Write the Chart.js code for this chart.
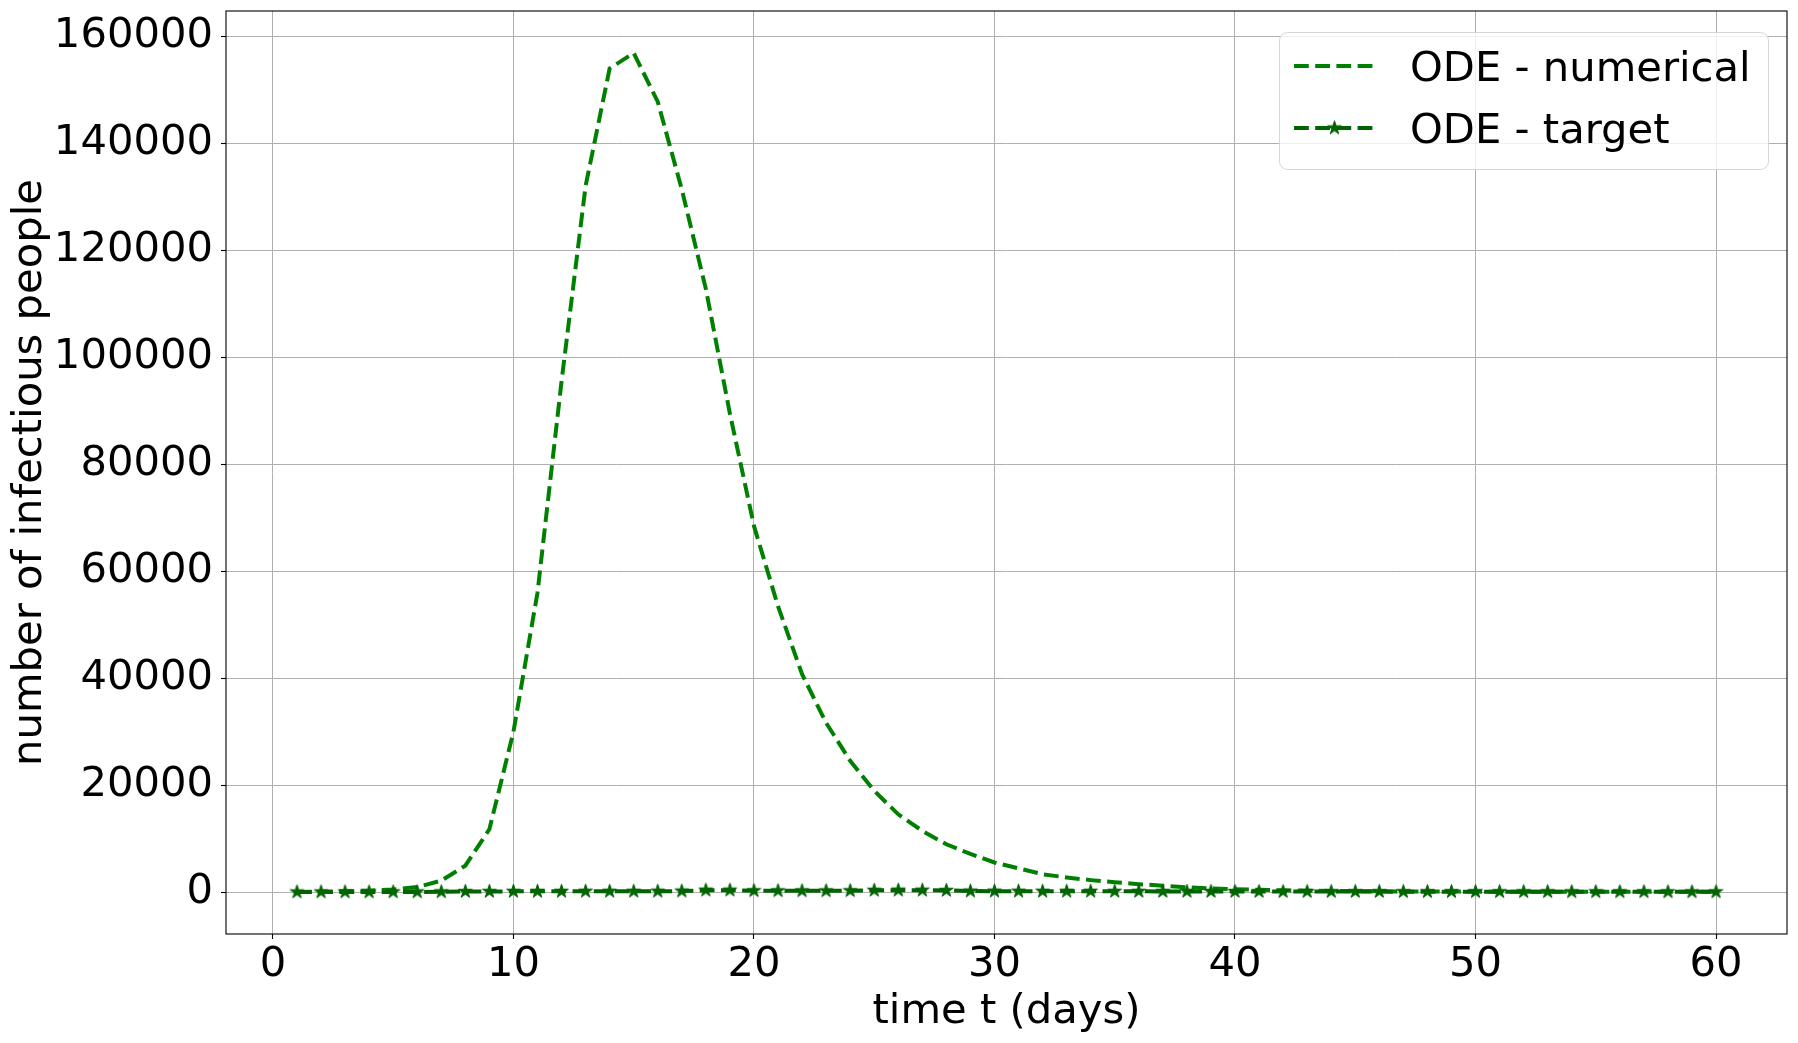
<!DOCTYPE html>
<html><head><meta charset="utf-8">
<script src="https://cdn.jsdelivr.net/npm/chart.js@4"></script>
<style>html,body{margin:0;padding:0;background:#fff;overflow:hidden}</style>
</head><body>
<canvas id="c" width="1798" height="1043"></canvas>
<script>
const days = [1,2,3,4,5,6,7,8,9,10,11,12,13,14,15,16,17,18,19,20,21,22,23,24,25,26,27,28,29,30,
  31,32,33,34,35,36,37,38,39,40,41,42,43,44,45,46,47,48,49,50,51,52,53,54,55,56,57,58,59,60];
const numerical = [100,150,220,330,550,1000,2200,5000,11800,30000,
  56000,95500,132000,154000,156900,147800,131400,112800,89500,68500,
  53500,40800,31700,24600,19000,14600,11500,9000,7200,5600,
  4500,3400,2800,2300,1900,1550,1250,950,750,600,
  480,400,330,280,240,210,190,170,160,150,
  140,135,130,128,125,122,120,118,116,115];
const target = [80,80,90,90,100,100,110,180,190,200,
  200,200,210,210,220,230,250,420,430,320,
  310,300,300,320,400,420,410,380,250,240,
  230,220,220,210,200,200,190,190,180,180,
  170,160,160,150,150,150,140,140,140,130,
  130,130,130,120,120,120,120,110,110,110];
const xTicks = [0,10,20,30,40,50,60];
const yTicks = [0,20000,40000,60000,80000,100000,120000,140000,160000];
const seriesLabels = ['ODE - numerical','ODE - target'];
const xTitle = 'time t (days)';
const yTitle = 'number of infectious people';

const FONT = 'DejaVu Sans';
const FS = 41.7;

function makeStar(R, color){
  const size = Math.ceil(2*R+4);
  const c = document.createElement('canvas'); c.width = size; c.height = size;
  const g = c.getContext('2d');
  const cx = size/2, cy = size/2, r = R*0.381966;
  g.beginPath();
  for (let i=0;i<10;i++){
    const a = -Math.PI/2 + i*Math.PI/5;
    const rad = (i%2) ? r : R;
    g.lineTo(cx + rad*Math.cos(a), cy + rad*Math.sin(a));
  }
  g.closePath();
  g.fillStyle = color; g.fill();
  g.strokeStyle = color; g.lineWidth = 1; g.lineJoin='miter'; g.stroke();
  return c;
}
const starImg = makeStar(7.2, '#006400');

const frameLegend = {
  id: 'frameLegend',
  afterDatasetsDraw(chart){
    const {ctx, chartArea:a} = chart;
    ctx.save();
    ctx.strokeStyle = '#000'; ctx.lineWidth = 1.1;
    ctx.strokeRect(a.left, a.top, a.right - a.left, a.bottom - a.top);
    ctx.restore();
  },
  afterDraw(chart){
    const ctx = chart.ctx; const ds = chart.data.datasets;
    ctx.save();
    ctx.beginPath();
    ctx.roundRect(1279.5, 32.5, 489, 137, 8);
    ctx.fillStyle = 'rgba(255,255,255,0.8)'; ctx.fill();
    ctx.strokeStyle = 'rgba(204,204,204,0.8)'; ctx.lineWidth = 1; ctx.stroke();
    const rows = [66, 128];
    ds.forEach((d, i) => {
      const y = rows[i];
      ctx.beginPath();
      ctx.setLineDash(d.borderDash); ctx.lineWidth = d.borderWidth; ctx.strokeStyle = d.borderColor;
      ctx.moveTo(1294, y); ctx.lineTo(1375, y); ctx.stroke();
      ctx.setLineDash([]);
      if (d.pointRadius > 0) ctx.drawImage(d.pointStyle, 1334.5 - d.pointStyle.width/2, y - d.pointStyle.height/2);
      ctx.fillStyle = '#000'; ctx.font = FS + 'px "' + FONT + '"'; ctx.textBaseline = 'middle'; ctx.textAlign = 'left';
      ctx.fillText(d.label, 1410, y + 4);
    });
    ctx.restore();
  }
};

const DASH = [14.8, 6.4];
new Chart(document.getElementById('c'), {
  type: 'line',
  data: {
    datasets: [
      { label: seriesLabels[0], data: days.map((d,i)=>({x:d, y:numerical[i]})),
        borderColor: '#008000', borderWidth: 4, borderDash: DASH, pointRadius: 0, fill: false, tension: 0, order: 1 },
      { label: seriesLabels[1], data: days.map((d,i)=>({x:d, y:target[i]})),
        borderColor: '#006400', borderWidth: 4, borderDash: DASH, pointRadius: 7, pointStyle: starImg,
        pointBackgroundColor: '#006400', pointBorderColor: '#006400', fill: false, tension: 0, order: 0 }
    ]
  },
  options: {
    responsive: false, animation: false, devicePixelRatio: 1, events: [],
    layout: { padding: { left: 0, top: 10, right: 9, bottom: 0 } },
    plugins: { legend: { display: false }, tooltip: { enabled: false } },
    scales: {
      x: {
        type: 'linear', min: -1.95, max: 62.95,
        afterBuildTicks: s => { s.ticks = xTicks.map(v => ({value: v})); },
        afterFit: s => { s.height = 109; s.paddingLeft = 0; s.paddingRight = 0; s.paddingTop = 0; s.paddingBottom = 0; },
        ticks: { callback: v => String(v), color: '#000', font: { family: FONT, size: FS }, padding: 1.5, maxRotation: 0, autoSkip: false },
        grid: { color: '#b0b0b0', lineWidth: 1, tickColor: '#000', tickLength: 5, tickWidth: 1.1, drawTicks: true },
        border: { display: false },
        title: { display: true, text: xTitle, color: '#000', font: { family: FONT, size: FS }, padding: { top: 0, bottom: 6 } }
      },
      y: {
        type: 'linear', min: -7770, max: 164740,
        afterBuildTicks: s => { s.ticks = yTicks.map(v => ({value: v})); },
        afterFit: s => { s.width = 226; s.paddingLeft = 0; s.paddingRight = 0; s.paddingTop = 0; s.paddingBottom = 0; },
        ticks: { callback: v => String(v), color: '#000', font: { family: FONT, size: FS }, padding: 8, autoSkip: false },
        grid: { color: '#b0b0b0', lineWidth: 1, tickColor: '#000', tickLength: 5, tickWidth: 1.1, drawTicks: true },
        border: { display: false },
        title: { display: true, text: yTitle, color: '#000', font: { family: FONT, size: FS }, padding: { top: 5, bottom: 0 } }
      }
    }
  },
  plugins: [frameLegend]
});
</script>
</body></html>
